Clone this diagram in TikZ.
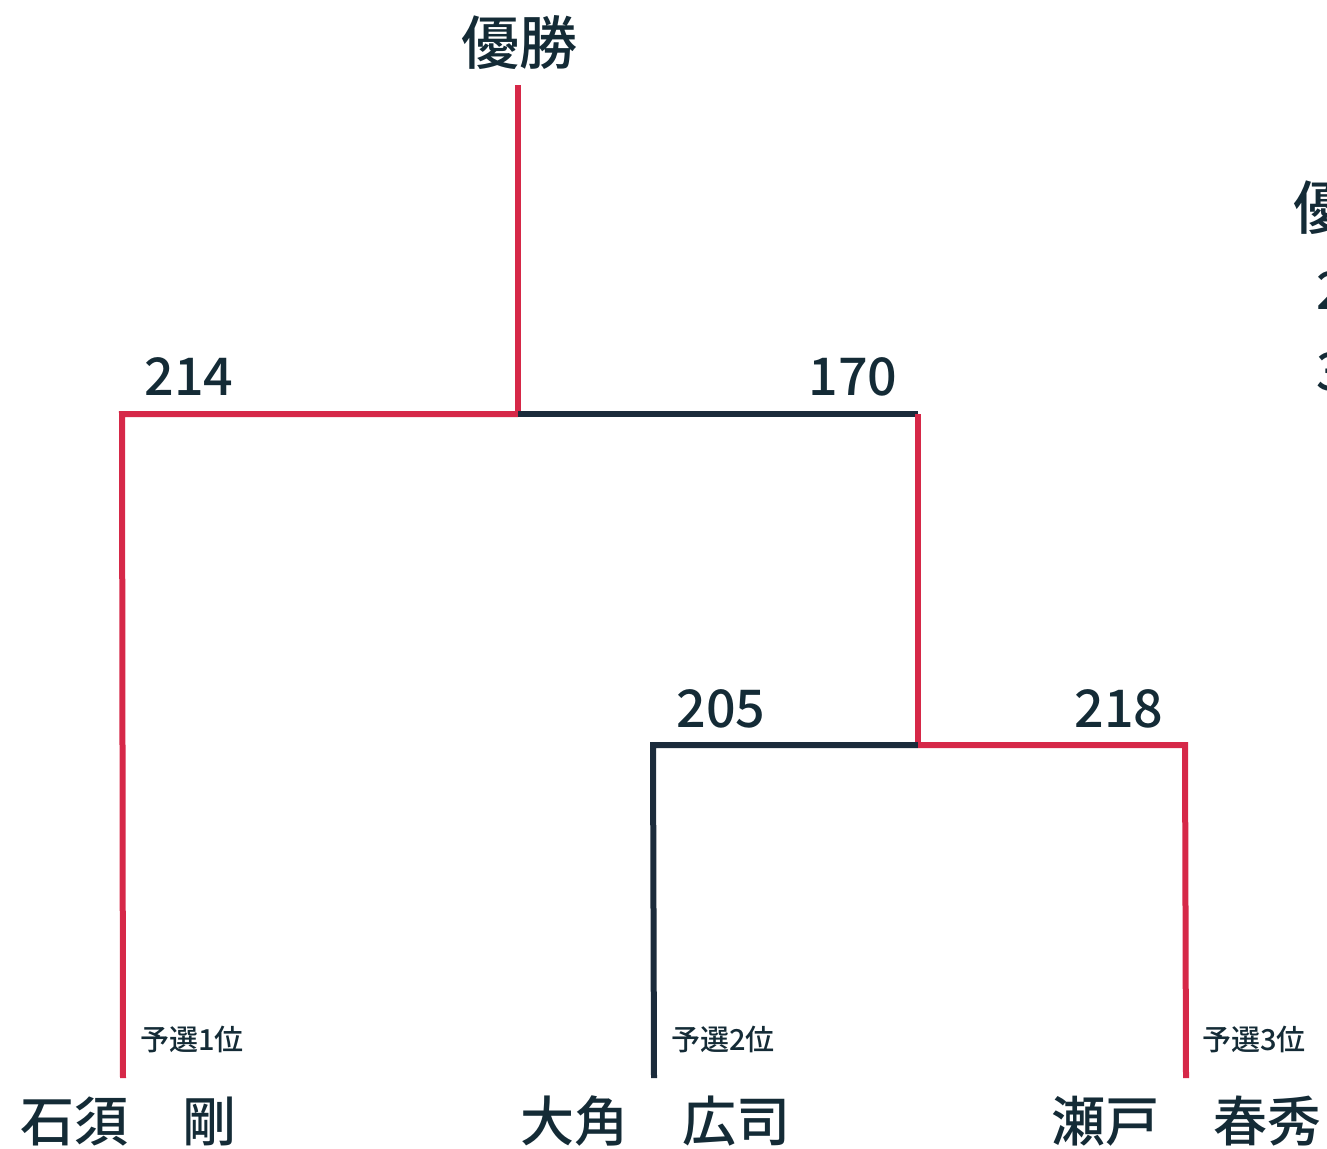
\documentclass[tikz,border=0pt]{standalone}
\usepackage{fontspec}
\setmainfont{Noto Sans CJK JP Medium}
\definecolor{lred}{HTML}{D62848}
\definecolor{lblk}{HTML}{1B2B3B}
\definecolor{txt}{HTML}{142B36}
\begin{document}
\begin{tikzpicture}[x=1pt,y=-1pt,
  redline/.style={draw=lred,line width=6pt},
  blkline/.style={draw=lblk,line width=6pt},
  scorelbl/.style={text=txt,font=\fontsize{52}{52}\selectfont,inner sep=0pt},
  seedlbl/.style={text=txt,font=\fontsize{29}{29}\selectfont,inner sep=0pt},
  playerlbl/.style={text=txt,font=\fontsize{54}{54}\selectfont,inner sep=0pt,anchor=west},
  titlelbl/.style={text=txt,font=\fontsize{58}{58}\selectfont,inner sep=0pt}]
\useasboundingbox (0,0) rectangle (1327,1148);
% coordinates
\coordinate (top) at (518,85);
\coordinate (f) at (518,414);
\coordinate (fl) at (122,414);
\coordinate (fr) at (918,414);
\coordinate (s) at (918,745);
\coordinate (sl) at (653,745);
\coordinate (sr) at (1185,745);
\coordinate (b1) at (123,1078);
\coordinate (b2) at (654,1078);
\coordinate (b3) at (1186,1078);
% lines
\draw[redline] (top) -- (f);
\draw[redline] (f) -- (fl) -- (b1);
\draw[blkline] (f) -- (fr);
\draw[redline] (fr) -- (s);
\draw[blkline] (s) -- (sl) -- (b2);
\draw[redline] (s) -- (sr) -- (b3);
% texts
\node[titlelbl] (win) at (519,43) {優勝};
\node[scorelbl] (t214) at (189,377) {214};
\node[scorelbl] (t170) at (853,377) {170};
\node[scorelbl] (t205) at (721,709) {205};
\node[scorelbl] (t218) at (1119,709) {218};
\node[seedlbl] (p1) at (192,1039) {予選1位};
\node[seedlbl] (p2) at (723,1039) {予選2位};
\node[seedlbl] (p3) at (1254,1039) {予選3位};
\node[playerlbl] (n1) at (20,1121) {石須　剛};
\node[playerlbl] (n2) at (520,1121) {大角　広司};
\node[playerlbl] (n3) at (1051,1121) {瀬戸　春秀};
% cut-off texts at right edge (cropped in the reference too)
\node[titlelbl,anchor=west] (r1) at (1293,208) {優};
\node[scorelbl,anchor=west] (r2) at (1316,291) {2};
\node[scorelbl,anchor=west] (r3) at (1316,372) {3};
\end{tikzpicture}
\end{document}
